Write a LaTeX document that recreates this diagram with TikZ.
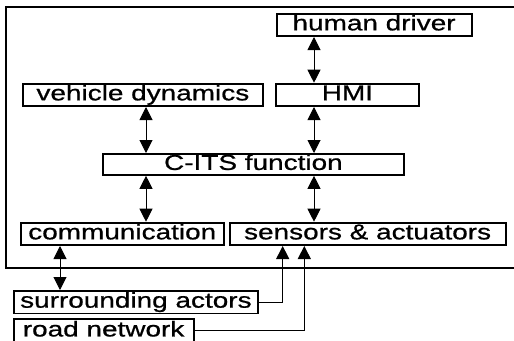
\documentclass[tikz,border=0pt]{standalone}
\usepackage{fontspec}
\setmainfont{Liberation Sans}[FakeStretch=1.3,FakeBold=0.8]
\usetikzlibrary{arrows.meta}
\begin{document}
\begin{tikzpicture}[x=1pt,y=-1pt,
  blk/.style={draw, line width=1.8pt, inner sep=0pt, anchor=north west,
    font=\fontsize{21.5}{25}\selectfont, text height=15pt, text depth=4pt},
  conn/.style={line width=1pt},
  tip/.tip={Triangle[width=13pt,length=13pt]},
  arr/.style={conn, tip-tip},
  uparr/.style={conn, -tip}]
\useasboundingbox (0,0) rectangle (514,340);
\begin{scope}
\clip (0,0) rectangle (514,340);
\draw[line width=2pt] (6,7) rectangle (522,267.7);
\node[blk, minimum width=195pt, minimum height=22.5pt] (hd) at (275.7,12.7) {human driver};
\node[blk, minimum width=143pt, minimum height=22.5pt] (hmi) at (275,82.7) {HMI};
\node[blk, minimum width=240pt, minimum height=22.5pt] (vd) at (22,82.7) {vehicle dynamics};
\node[blk, minimum width=301pt, minimum height=21pt] (cits) at (102,153) {C-ITS function};
\node[blk, minimum width=202.7pt, minimum height=22.5pt] (comm) at (20,221.7) {communication};
\node[blk, minimum width=276pt, minimum height=22.5pt] (sens) at (228.7,221.7) {sensors \& actuators};
\node[blk, minimum width=244.6pt, minimum height=22.5pt] (sa) at (12.7,290) {surrounding actors};
\node[blk, minimum width=180pt, minimum height=23.5pt] (rn) at (12.7,318.3) {road network};
\end{scope}
\coordinate (xa) at (314,0);
\coordinate (xv) at (146,0);
\coordinate (xc) at (60,0);
\coordinate (xs) at (282.7,0);
\coordinate (xr) at (304.3,0);
\draw[arr] (hd.south -| xa) -- (hmi.north -| xa);
\draw[arr] (hmi.south -| xa) -- (cits.north -| xa);
\draw[arr] (cits.south -| xa) -- (sens.north -| xa);
\draw[arr] (vd.south -| xv) -- (cits.north -| xv);
\draw[arr] (cits.south -| xv) -- (comm.north -| xv);
\draw[arr] (comm.south -| xc) -- (sa.north -| xc);
\draw[uparr] (sa.east) -| (sens.south -| xs);
\draw[uparr] (rn.east) -| (sens.south -| xr);
\end{tikzpicture}
\end{document}
